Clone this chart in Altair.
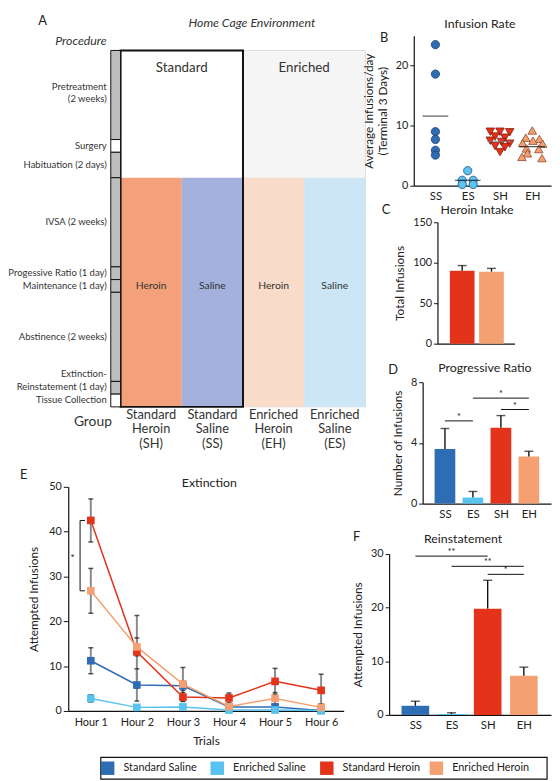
import json
import altair as alt
import pandas as pd

FONT = "Lato"

# ---------------- data ----------------
GROUPS = ["SS", "ES", "SH", "EH"]
GROUP_NAMES = ["Standard Saline", "Enriched Saline", "Standard Heroin", "Enriched Heroin"]
GROUP_COLORS = ["#2e6db4", "#58c3ef", "#e3331a", "#f4a072"]

# Panel A - procedure timeline (spans in diagram units)
STAGES = ["Pretreatment\n(2 weeks)", "Surgery", "Habituation (2 days)", "IVSA (2 weeks)",
          "Progessive Ratio (1 day)", "Maintenance (1 day)", "Abstinence (2 weeks)",
          "Extinction-\nReinstatement (1 day)", "Tissue Collection"]
STAGE_SPANS = [7, 1, 2, 7, 1, 1, 7, 1, 1]
STAGE_SHADED = [1, 0, 1, 1, 1, 1, 1, 1, 0]
IVSA_STAGE = 3
A_GROUP_LABELS = ["Standard\nHeroin\n(SH)", "Standard\nSaline\n(SS)",
                  "Enriched\nHeroin\n(EH)", "Enriched\nSaline\n(ES)"]
A_DRUGS = ["Heroin", "Saline", "Heroin", "Saline"]
A_FILLS = ["#f4a17b", "#a3b1dc", "#f8dcc9", "#cce6f5"]
ENVIRONMENTS = ["Standard", "Enriched"]

# Panel B - infusion rate (individual animals, horizontal beeswarm offsets)
B_SS = [23.5, 18.6, 9.0, 7.7, 5.9, 5.1]
B_SS_OFF = [0, 0, 0, 0, 0, 0]
B_ES = [2.5, 0.9, 0.9, 0.2, 0.2]
B_ES_OFF = [0, -0.17, 0.17, -0.17, 0.17]
B_SH = [9.0, 9.0, 8.9, 8.2, 8.0, 7.5, 7.3, 7.0, 6.6, 6.4, 5.6]
B_SH_OFF = [-0.3, 0.0, 0.3, -0.15, 0.15, -0.3, 0.05, 0.3, -0.15, 0.15, 0.0]
B_EH = [9.2, 8.0, 7.8, 7.5, 7.1, 7.0, 6.2, 6.1, 5.4, 4.8, 4.6]
B_EH_OFF = [0.0, -0.2, 0.22, 0.02, -0.3, 0.32, -0.18, 0.2, -0.15, -0.32, 0.3]
B_MEANS = [11.6, 0.9, 7.4, 6.5]

# Panel C - heroin intake
C_GROUPS = ["SH", "EH"]
C_MEANS = [90, 89]
C_SEM = [6.5, 4.0]

# Panel D - progressive ratio
D_MEANS = [3.6, 0.4, 5.0, 3.1]
D_SEM = [1.35, 0.4, 0.8, 0.35]
D_SIG_FROM = [0, 1, 2]
D_SIG_TO = [1, 3, 3]
D_SIG_Y = [5.45, 6.95, 6.2]
D_SIG_TEXT = ["*", "*", "*"]

# Panel E - extinction
HOURS = ["Hour 1", "Hour 2", "Hour 3", "Hour 4", "Hour 5", "Hour 6"]
E_MEANS = {
    "Standard Saline": [11.2, 5.8, 5.6, 0.9, 0.9, 0.1],
    "Enriched Saline": [2.8, 0.8, 0.9, 0.2, 0.2, 0.1],
    "Standard Heroin": [42.5, 13.2, 3.1, 2.9, 6.6, 4.6],
    "Enriched Heroin": [26.8, 14.3, 6.0, 1.0, 2.8, 0.8],
}
E_SEM = {
    "Standard Saline": [2.9, 3.6, 1.0, 0.6, 0.5, 0.1],
    "Enriched Saline": [0.8, 0.3, 0.4, 0.2, 0.2, 0.1],
    "Standard Heroin": [4.8, 8.1, 1.0, 1.1, 2.9, 3.6],
    "Enriched Heroin": [5.0, 2.0, 3.7, 0.8, 1.3, 0.8],
}

# Panel F - reinstatement
F_MEANS = [1.7, 0.15, 19.8, 7.3]
F_SEM = [0.85, 0.25, 5.3, 1.6]
F_SIG_FROM = [0, 1, 2]
F_SIG_TO = [2, 3, 3]
F_SIG_Y = [29.6, 27.7, 26.2]
F_SIG_TEXT = ["**", "**", "*"]

COLOR_OF = dict(zip(GROUPS, GROUP_COLORS))


# ---------------- helpers ----------------
def label(text, dx, dy, size=13, align="center"):
    return alt.Chart(pd.DataFrame({"t": [text]})).mark_text(
        font=FONT, fontSize=size, align=align, baseline="middle", color="#222"
    ).encode(text="t:N", x=alt.value(dx), y=alt.value(dy))


def frame(x0, y0, x1, y1):
    """Invisible corner markers that fix a panel's layout box (pixels from plot origin)."""
    df = pd.DataFrame({"k": [0, 1]})
    p0 = alt.Chart(df.iloc[[0]]).mark_point(opacity=0, size=1, strokeWidth=0).encode(
        x=alt.value(x0), y=alt.value(y0))
    p1 = alt.Chart(df.iloc[[1]]).mark_point(opacity=0, size=1, strokeWidth=0).encode(
        x=alt.value(x1), y=alt.value(y1))
    return [p0, p1]


def spacer():
    return alt.layer(*frame(0, 0, 1, 1)).properties(width=1, height=1)


def cat_axis(labels, show_labels=True):
    return alt.Axis(values=list(range(len(labels))),
                    labelExpr=json.dumps(labels) + "[datum.value]",
                    ticks=False, title=None, labels=show_labels, labelPadding=5,
                    labelFontSize=11.5)


# ---------------- Panel A ----------------
A_W, A_H = 303, 376
AX = alt.Scale(domain=[-0.855, 4.032], nice=False, zero=False)
AY = alt.Scale(domain=[-1.163, 28], nice=False, zero=False, reverse=True)
total = sum(STAGE_SPANS)
starts = [sum(STAGE_SPANS[:i]) for i in range(len(STAGE_SPANS))]
ivsa0 = starts[IVSA_STAGE]


def axq(f):
    return alt.X(f, scale=AX, axis=None)


def ayq(f):
    return alt.Y(f, scale=AY, axis=None)


stage_df = pd.DataFrame({
    "name": STAGES, "y0": starts,
    "y1": [s + w for s, w in zip(starts, STAGE_SPANS)],
    "fill": ["#bdbdbd" if s else "#ffffff" for s in STAGE_SHADED],
})
stage_df["mid"] = (stage_df["y0"] + stage_df["y1"]) / 2
stage_df["x0"] = -0.16
stage_df["x1"] = 0.0
stage_df["lx"] = -0.226
stage_df["multi"] = ["\n" in s for s in STAGES]
stage_df["ltop"] = [m - 1.0 if i == 0 else y0 - 0.95
                    for i, (m, y0) in enumerate(zip(stage_df["mid"], stage_df["y0"]))]

env_df = pd.DataFrame({"x0": [2.0], "x1": [4.0], "y0": [0], "y1": [total]})
cols_df = pd.DataFrame({
    "x0": list(range(4)), "x1": [i + 1 for i in range(4)],
    "y0": [ivsa0] * 4, "y1": [total] * 4, "fill": A_FILLS,
    "cx": [i + 0.5 for i in range(4)], "drug": A_DRUGS, "glabel": A_GROUP_LABELS,
})
cols_df["dy"] = (ivsa0 + total) / 2 - 0.5
cols_df["gy"] = total + 0.15
box_df = pd.DataFrame({"x0": [0.0], "x1": [2.0], "y0": [0], "y1": [total]})
envlab_df = pd.DataFrame({"t": ENVIRONMENTS, "x": [1.0, 3.0], "y": [1.4, 1.4]})
misc_df = pd.DataFrame({
    "t": ["Procedure", "Home Cage Environment"],
    "x": [-0.226, 2.145], "y": [-0.775, -2.17],
})

a_env = alt.Chart(env_df).mark_rect(color="#f5f5f5", stroke="#dcdcdc", strokeWidth=1).encode(
    x=axq("x0:Q"), x2="x1:Q", y=ayq("y0:Q"), y2="y1:Q")
a_cols = alt.Chart(cols_df).mark_rect().encode(
    x=axq("x0:Q"), x2="x1:Q", y=ayq("y0:Q"), y2="y1:Q",
    color=alt.Color("fill:N", scale=None))
a_box = alt.Chart(box_df).mark_rect(fillOpacity=0, stroke="#111", strokeWidth=2).encode(
    x=axq("x0:Q"), x2="x1:Q", y=ayq("y0:Q"), y2="y1:Q")
a_tl = alt.Chart(stage_df).mark_rect(stroke="#111", strokeWidth=1).encode(
    x=axq("x0:Q"), x2="x1:Q", y=ayq("y0:Q"), y2="y1:Q",
    color=alt.Color("fill:N", scale=None))
a_stage_txt = alt.Chart(stage_df).transform_filter("!datum.multi").mark_text(
    font=FONT, fontSize=9.6, align="right", baseline="middle", color="#333").encode(
    x=axq("lx:Q"), y=ayq("mid:Q"), text="name:N")
a_stage_multi = alt.Chart(stage_df).transform_filter("datum.multi").mark_text(
    font=FONT, fontSize=9.6, align="right", baseline="top", lineBreak="\n",
    lineHeight=12.5, color="#333").encode(x=axq("lx:Q"), y=ayq("ltop:Q"), text="name:N")
a_drug = alt.Chart(cols_df).mark_text(font=FONT, fontSize=10.5, color="#333").encode(
    x=axq("cx:Q"), y=ayq("dy:Q"), text="drug:N")
a_group = alt.Chart(cols_df).mark_text(font=FONT, fontSize=13, baseline="top",
                                       lineBreak="\n", lineHeight=15, color="#333").encode(
    x=axq("cx:Q"), y=ayq("gy:Q"), text="glabel:N")
a_env_txt = alt.Chart(envlab_df).mark_text(font=FONT, fontSize=13.5, color="#333").encode(
    x=axq("x:Q"), y=ayq("y:Q"), text="t:N")
a_proc = alt.Chart(misc_df.iloc[[0]]).mark_text(font=FONT, fontSize=12.5, fontStyle="italic",
                                                align="right", color="#333").encode(
    x=axq("x:Q"), y=ayq("y:Q"), text="t:N")
a_home = alt.Chart(misc_df.iloc[[1]]).mark_text(font=FONT, fontSize=12.5, fontStyle="italic",
                                                align="center", color="#333").encode(
    x=axq("x:Q"), y=ayq("y:Q"), text="t:N")
grp_df = pd.DataFrame({"t": ["Group", "A"], "x": [-0.452, -1.274], "y": [29.22, -2.3]})
a_grp = alt.Chart(grp_df.iloc[[0]]).mark_text(font=FONT, fontSize=14, color="#333").encode(
    x=axq("x:Q"), y=ayq("y:Q"), text="t:N")
a_letter = alt.Chart(grp_df.iloc[[1]]).mark_text(font=FONT, fontSize=13, color="#222").encode(
    x=axq("x:Q"), y=ayq("y:Q"), text="t:N")

panel_a = alt.layer(a_env, a_cols, a_box, a_tl, a_stage_txt, a_stage_multi, a_drug,
                    a_group, a_env_txt, a_proc, a_home, a_grp, a_letter,
                    *frame(-59, -22, 305, 432)
                    ).properties(width=A_W, height=A_H)

# ---------------- Panel B ----------------
B_W, B_H = 139, 152
b_rows = []
for gi, (vals, offs) in enumerate([(B_SS, B_SS_OFF), (B_ES, B_ES_OFF), (B_SH, B_SH_OFF), (B_EH, B_EH_OFF)]):
    for v, o in zip(vals, offs):
        b_rows.append({"g": GROUPS[gi], "x": gi + o, "v": v})
b_df = pd.DataFrame(b_rows)
SHAPES = {"SS": "circle", "ES": "circle", "SH": "triangle-down", "EH": "triangle-up"}
STROKES = {"SS": "#1b3f73", "ES": "#1d4f86", "SH": "#8a1a0c", "EH": "#8b4a2a"}
FILLS = {"SS": "#2e6db4", "ES": "#5cc4ef", "SH": "#e3331a", "EH": "#f4a072"}
b_df["shape"] = b_df["g"].map(SHAPES)
b_df["fill"] = b_df["g"].map(FILLS)
b_df["stroke"] = b_df["g"].map(STROKES)
b_df["size"] = b_df["g"].map({"SS": 70, "ES": 70, "SH": 75, "EH": 75})
bx = alt.Scale(domain=[-0.67, 3.58], nice=False, zero=False)
by = alt.Scale(domain=[0, 25], nice=False)
b_pts = alt.Chart(b_df).mark_point(filled=True, strokeWidth=0.8, opacity=1).encode(
    x=alt.X("x:Q", scale=bx, axis=cat_axis(GROUPS)),
    y=alt.Y("v:Q", scale=by, axis=alt.Axis(values=[0, 5, 10, 15, 20, 25],
                                            title=["Average Infusions/day", "(Terminal 3 Days)"],
                                            titlePadding=6)),
    shape=alt.Shape("shape:N", scale=None),
    fill=alt.Fill("fill:N", scale=None),
    stroke=alt.Stroke("stroke:N", scale=None),
    size=alt.Size("size:Q", scale=None),
)
bm_df = pd.DataFrame({"x": list(range(4)), "m": B_MEANS,
                      "c": ["#111", "#111", "#777", "#111"]})
b_mean = alt.Chart(bm_df).mark_tick(orient="horizontal", size=26, thickness=1.2).encode(
    x=alt.X("x:Q", scale=bx), y=alt.Y("m:Q", scale=by), color=alt.Color("c:N", scale=None))
panel_b = alt.layer(b_pts, b_mean, label("B", -30, 2), label("Infusion Rate", 67, -12, 12.5),
                    *frame(-73, -22, 139, 168)
                    ).properties(width=B_W, height=B_H)


# ---------------- bar panels ----------------
def bar_panel(labels, means, sems, w, h, xdom, ydom, yvals, ytitle, title, title_xy,
              letter, letter_xy, bar_size, box, show_x=True, sig=None):
    df = pd.DataFrame({"i": list(range(len(labels))), "g": labels, "m": means,
                       "top": [m + s for m, s in zip(means, sems)],
                       "c": [COLOR_OF[g] for g in labels]})
    xs = alt.Scale(domain=xdom, nice=False, zero=False)
    ys = alt.Scale(domain=ydom, nice=False)
    base = alt.Chart(df)
    bars = base.mark_bar(size=bar_size, orient="vertical").encode(
        x=alt.X("i:Q", scale=xs, axis=cat_axis(labels, show_x)),
        y=alt.Y("m:Q", scale=ys, axis=alt.Axis(values=yvals, title=ytitle, titlePadding=6)),
        color=alt.Color("c:N", scale=None))
    err = base.mark_rule(color="#111", strokeWidth=1.4).encode(
        x=alt.X("i:Q", scale=xs), y=alt.Y("m:Q", scale=ys), y2="top:Q")
    cap = base.mark_tick(orient="horizontal", size=9, thickness=1.4, color="#111").encode(
        x=alt.X("i:Q", scale=xs), y=alt.Y("top:Q", scale=ys))
    layers = [bars, err, cap]
    if sig is not None:
        fr, to, yy, tx = sig
        sdf = pd.DataFrame({"a": fr, "b": to, "y": yy, "t": tx})
        sdf["mid"] = (sdf["a"] + sdf["b"]) / 2
        layers.append(alt.Chart(sdf).mark_rule(color="#111", strokeWidth=1).encode(
            x=alt.X("a:Q", scale=xs), x2="b:Q", y=alt.Y("y:Q", scale=ys)))
        layers.append(alt.Chart(sdf).mark_text(font=FONT, fontSize=9, dy=-4, color="#111").encode(
            x=alt.X("mid:Q", scale=xs), y=alt.Y("y:Q", scale=ys), text="t:N"))
    layers.append(label(letter, *letter_xy))
    layers.append(label(title, *title_xy, size=12.5))
    layers.extend(frame(*box))
    return alt.layer(*layers).properties(width=w, height=h)


panel_c = bar_panel(C_GROUPS, C_MEANS, C_SEM, 78, 123, [-0.676, 1.618], [0, 150],
                    [0, 50, 100, 150], "Total Infusions", "Heroin Intake", (40, -12),
                    "C", (-52, -12), 25, (-97, -19, 115, 138), show_x=False)
panel_d = bar_panel(GROUPS, D_MEANS, D_SEM, 130, 123, [-0.62, 3.615], [0, 8],
                    [0, 2, 4, 6, 8], "Number of Infusions", "Progressive Ratio", (63, -14),
                    "D", (-30, -12), 21, (-82, -22, 130, 141),
                    sig=(D_SIG_FROM, D_SIG_TO, D_SIG_Y, D_SIG_TEXT))
panel_f = bar_panel(GROUPS, F_MEANS, F_SEM, 164, 163, [-0.59, 3.615], [0, 30],
                    [0, 5, 10, 15, 20, 25, 30], "Attempted Infusions", "Reinstatement", (75, -15),
                    "F", (-33, -17), 28, (-48, -31, 164, 199),
                    sig=(F_SIG_FROM, F_SIG_TO, F_SIG_Y, F_SIG_TEXT))

# ---------------- Panel E ----------------
E_W, E_H = 279, 227
e_rows = []
for gname, gcol in zip(GROUP_NAMES, GROUP_COLORS):
    for h, m, s in zip(HOURS, E_MEANS[gname], E_SEM[gname]):
        e_rows.append({"hour": h, "group": gname, "m": m, "lo": max(m - s, 0), "hi": m + s,
                       "c": gcol})
e_df = pd.DataFrame(e_rows)
ex = alt.X("hour:N", sort=HOURS, scale=alt.Scale(type="point", padding=0.49),
           axis=alt.Axis(title="Trials", ticks=False, labelAngle=0, labelPadding=6,
                         titlePadding=8, labelFontSize=11))
eys = alt.Scale(domain=[0, 50], nice=False)
ey = alt.Y("m:Q", scale=eys, axis=alt.Axis(
    values=list(range(0, 51, 5)),
    labelExpr="datum.value % 10 === 0 ? datum.label : ''",
    tickSize={"condition": {"test": "datum.value % 10 === 0", "value": 5}, "value": 3},
    title="Attempted Infusions", titlePadding=8))
e_base = alt.Chart(e_df)
e_line = e_base.mark_line(strokeWidth=1.5).encode(
    x=ex, y=ey, detail="group:N", color=alt.Color("c:N", scale=None))
e_err = e_base.mark_rule(color="#8a8a8a", strokeWidth=2).encode(
    x=ex, y=alt.Y("lo:Q", scale=eys), y2="hi:Q")
e_cap_hi = e_base.mark_tick(orient="horizontal", size=5, thickness=1.5, color="#111").encode(
    x=ex, y=alt.Y("hi:Q", scale=eys))
e_cap_lo = e_base.mark_tick(orient="horizontal", size=5, thickness=1.5, color="#111").encode(
    x=ex, y=alt.Y("lo:Q", scale=eys))
e_pts = e_base.mark_square(size=60, opacity=1).encode(
    x=ex, y=alt.Y("m:Q", scale=eys), color=alt.Color("c:N", scale=None))
br_df = pd.DataFrame({"top": [E_MEANS["Standard Heroin"][0]],
                      "bot": [E_MEANS["Enriched Heroin"][0]]})
br_df["mid"] = (br_df["top"] + br_df["bot"]) / 2
e_br_v = alt.Chart(br_df).mark_rule(color="#111", strokeWidth=1).encode(
    x=alt.value(12), y=alt.Y("top:Q", scale=eys), y2="bot:Q")
e_br_t = alt.Chart(br_df).mark_rule(color="#111", strokeWidth=1).encode(
    x=alt.value(12), x2=alt.value(17), y=alt.Y("top:Q", scale=eys))
e_br_b = alt.Chart(br_df).mark_rule(color="#111", strokeWidth=1).encode(
    x=alt.value(12), x2=alt.value(17), y=alt.Y("bot:Q", scale=eys))
e_star = alt.Chart(br_df).mark_text(font=FONT, fontSize=10, angle=270, color="#111").encode(
    x=alt.value(7), y=alt.Y("mid:Q", scale=eys), text=alt.value("*"))
panel_e = alt.layer(e_line, e_err, e_cap_hi, e_cap_lo, e_pts, e_br_v, e_br_t, e_br_b, e_star,
                    label("E", -45, -12), label("Extinction", 143, -4, 12.5),
                    *frame(-59, -23, 305, 263)
                    ).properties(width=E_W, height=E_H)

# ---------------- shared legend (drawn as marks) ----------------
LEG_W, LEG_H = 485, 27
leg_df = pd.DataFrame({"group": GROUP_NAMES, "c": GROUP_COLORS,
                       "i": list(range(len(GROUP_NAMES)))})
leg_df["ti"] = leg_df["i"] + 0.144
lx = alt.Scale(domain=[-0.36, 4.01], nice=False, zero=False)
leg_box = alt.Chart(pd.DataFrame({"k": [0]})).mark_rect(
    fillOpacity=0, stroke="#111", strokeWidth=1.2).encode(
    x=alt.value(33), x2=alt.value(LEG_W), y=alt.value(5), y2=alt.value(LEG_H))
leg_sym = alt.Chart(leg_df).mark_square(size=185, opacity=1).encode(
    x=alt.X("i:Q", scale=lx, axis=None), y=alt.value(16),
    color=alt.Color("c:N", scale=None))
leg_txt = alt.Chart(leg_df).mark_text(font=FONT, fontSize=11, align="left",
                                      baseline="middle", color="#222").encode(
    x=alt.X("ti:Q", scale=lx, axis=None), y=alt.value(16), text="group:N")
legend_chart = alt.layer(leg_box, leg_sym, leg_txt, *frame(0, 0, LEG_W, LEG_H)
                         ).properties(width=LEG_W, height=LEG_H)

# ---------------- layout (flow layout, boxes fixed by the frames) ----------------
def row(panel):
    return alt.concat(spacer(), panel, columns=2, spacing=0, align="none")


left = alt.concat(panel_a, panel_e, columns=1, spacing=0, align="none")
right = alt.concat(row(panel_b), row(panel_c), row(panel_d), row(panel_f),
                   columns=1, spacing=0, align="none")
top = alt.concat(left, right, columns=2, spacing=-33, align="none")

chart = alt.concat(top, legend_chart, columns=1, spacing=0, align="none").properties(
    padding=0, background="white"
).configure_view(strokeWidth=0).configure_axis(
    domainColor="#111", tickColor="#111", labelColor="#222", titleColor="#222",
    labelFont=FONT, titleFont=FONT, labelFontSize=11, titleFontSize=12,
    titleFontWeight="normal", grid=False, tickSize=4, domainWidth=1.2,
)

chart.save("out.html", embed_options={"renderer": "svg", "actions": False})
